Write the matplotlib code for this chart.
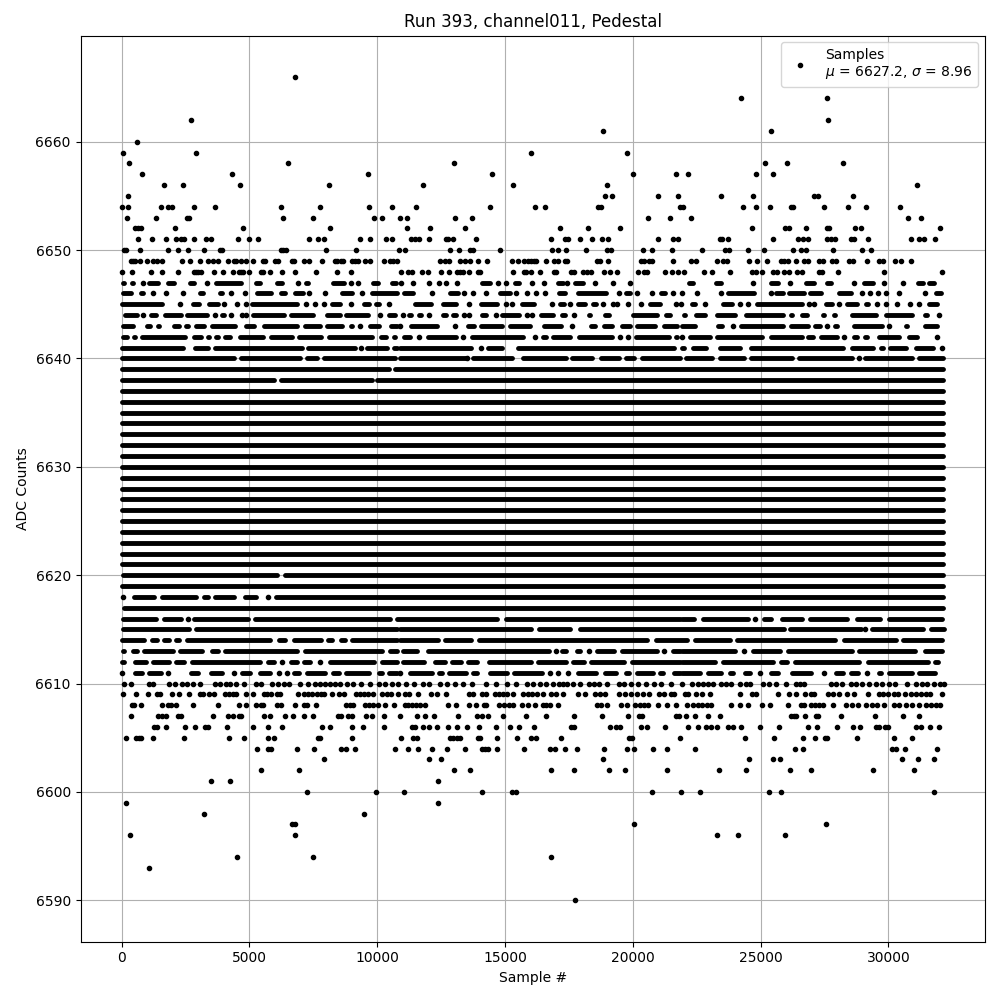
import matplotlib
matplotlib.use("Agg")
import matplotlib.pyplot as plt

# Values are read off the picture. An int is one sample; a (start, end) pair is
# a stretch of a row where the dots overlap too much to separate individually.
row_6666 = [6783]
row_6664 = [24218, 27590]
row_6662 = [2721, 27656]
row_6661 = [18828, 25390]
row_6660 = [586]
row_6659 = [65, 2916, 16003, 19766]
row_6658 = [300, 6510, 12994, 25156, 26054, 28241]
row_6657 = [807, 4323, 9635, 14478, 20000, 21680, 22148, 24804, 25468]
row_6656 = [1667, 2409, 4635, 8111, 11783, 15298, 18984, 31132]
row_6655 = [260, 18906, 19180, 20976, 21758, 23437, 24687, 27110, 27240, 28632]
row_6654 = [26, 260, 1549, 1823, 1979, 2838, 3659, 6237, 7760, 9674, 10572, 11510, 14400,
            16172, 16563, 18633, 18750, 21836, 21953, 24296, 24804, 25351, 26210, 26289,
            27500, 28437, 29140, 30468]
row_6653 = [221, 1354, 2565, 2620, 6315, 7487, 9869, 10182, 10885, 11171, 13033, 13697,
            20586, 21445, 22265, 30781, 31289]
row_6652 = [534, 651, 755, 2096, 4752, 8150, 11158, 12056, 13424, 17148, 18242, 19492,
            24648, 25976, 26133, 26797, 27617, 27695, 28710, 28945, 32031]
row_6651 = [651, 1198, 1745, 2135, 2330, 2435, 2838, 3307, 3502, 4557, 4987, 5338, 7330,
            7682, 7916, 9322, 9713, 10338, 10572, 11314, 11471, 11627, 12017, 12681, 12760,
            12955, 13853, 16797, 17344, 17461, 17930, 18398, 18789, 19023, 20976, 21562,
            21758, 23398, 23476, 23710, 25468, 26484, 26680, 26875, 27617, 27773, 27930,
            28554, 28671, 29218, 30898, 31211, 31406, 31836]
row_6650 = [78, 156, 729, 1823, 2213, 2604, 3229, 3841, 3919, 6237, 6315, 6432, 7994, 9166,
            10846, 11080, 12838, 13189, 13619, 13736, 14791, 16836, 17070, 17383, 18164,
            18984, 19140, 20390, 20742, 21523, 22695, 23593, 23750, 24492, 25117, 26289,
            26601, 26797, 27851, 28984, 29336]
row_6649 = [378, 456, 534, 729, 977, 1237, 1393, 1588, 2370, 2682, 3073, 3385, 3581, 3776,
            4166, 4401, 4479, 4674, 4870, 5143, 5533, 5612, 6002, 6119, 6666, 6744, 7135,
            7330, 7838, 8346, 8424, 8580, 8658, 9010, 9127, 9244, 9518, 9713, 10260, 10494,
            10611, 10767, 12447, 12642, 12799, 13228, 13424, 13619, 13931, 14283, 15259,
            15494, 15728, 15884, 16015, 16120, 16198, 16601, 16914, 17070, 17344, 17422,
            18594, 18711, 19023, 20312, 20429, 20625, 20742, 21562, 22265, 22461, 23281,
            23515, 23671, 24531, 24843, 25234, 25781, 25937, 26055, 26406, 26718, 26875,
            27304, 27460, 27812, 27968, 28476, 28632, 29179, 29648, 29804, 30273, 30507, 30872]
row_6648 = [26, 417, 1159, 1588, 2213, 2838, 2916, 2994, 3099, 3620, 3971, 4362, 4596, 4674,
            4752, 4987, 5455, 5533, 5807, 6276, 6783, 7604, 8411, 8971, 10924, 11197, 11354,
            11744, 11978, 12486, 12799, 13111, 13228, 13345, 13580, 13931, 14010, 15298,
            15728, 15819, 16015, 16367, 16914, 16992, 17578, 17683, 18047, 18203, 18359,
            18867, 19101, 19375, 20195, 20429, 20547, 21250, 21523, 21758, 21992, 22773,
            23085, 23789, 24648, 24804, 25039, 25468, 25625, 25937, 26133, 26445, 26640,
            27304, 27421, 28046, 29843, 32109]
row_6647 = [(39, 91), (403, 455), 845, (1080, 1417), (1833, 2041), (2665, 2847), 3341,
            (3705, 4667), (5265, 5421), (6084, 6266), 6903, (7215, 7306), (8268, 8697), 8957,
            9230, (9854, 10036), (10595, 10751), 10940, 11420, 12040, 12430, 12695, 13140,
            (14090, 14410), 14710, 15040, (15390, 15560), 16040, 16535, (17060, 17280), 17410,
            (17730, 18060), 18540, 19230, 19895, (22200, 22360), (23270, 23460), 24700,
            (25415, 25675), 26170, (26780, 27110), (27600, 27760), 28670, (29060, 29390),
            29840, 30560, (31150, 31340), (31600, 31800)]
row_6646 = [(65, 378), (755, 833), 1237, 1745, 2409, (3060, 3190), (3841, 3932), 4297, 4818,
            (5312, 5846), (6224, 6406), (6783, 7096), 7317, 7955, (8606, 9010), 9400,
            (9778, 10767), (11050, 11420), 12160, (12850, 13180), 13410, 13760, 14240,
            (14800, 15200), 15440, 15880, 16200, 16560, (17120, 17340), (17860, 18970), 19450,
            (19750, 19880), 20150, 20770, (21090, 21250), 21575, 21940, 22510, 23450,
            (23720, 24725), 25415, (25610, 25870), (26105, 26720), (26940, 27370),
            (28085, 28540), 28960, 29280, 29580, 29910, 30430, 31430, (31860, 32055)]
row_6645 = [(0, 1588), 2280, (2800, 3020), (3424, 3763), 4023, 4505, 4857, (5117, 6862), 7226,
            7565, 7903, (8241, 8554), 8958, (9479, 9661), (9960, 10090), 10455, (11484, 12096),
            (12565, 13072), 13593, (14062, 14700), 15025, 15285, (15663, 16132), 16848,
            (17160, 17304), 17564, (17838, 18150), (18463, 18580), 18840, 19230, 19400, 19817,
            20337, (20663, 21080), 21705, 21900, (22300, 22447), 22811, (23540, 23880), 24205,
            24504, (24870, 26613), 26912, 27108, (27564, 27785), 28059, (28384, 28762),
            (29126, 29217), 29543, 29908, 30337, 30845, 31183, (31574, 31886)]
row_6644 = [(143, 612), 846, (1146, 1328), (1693, 2305), (2578, 3346), 3659, (3919, 3997), 4270,
            4700, 4883, (5143, 6367), (6614, 7487), (8046, 8554), (8762, 9622), 10117,
            (10481, 10702), 11000, (11240, 11315), (11653, 11731), 12044, (12565, 12682),
            (12955, 13072), 13398, 13606, (14101, 14244), 14635, (14882, 15546), 15846, 16067,
            (16405, 16874), (17226, 17343), 17694, (18293, 18320), (18905, 19087),
            (20012, 20949), (21288, 21444), (22004, 22056), (22460, 22838), (23306, 24010),
            (24413, 25897), (26210, 26249), (26626, 26808), (27434, 27486), (27876, 27928),
            (28580, 29504), (29907, 30910), (31417, 31521), 31964]
row_6643 = [(65, 456), (976, 1094), (1406, 1458), (2031, 2239), (2513, 2591), (2929, 3242),
            (3528, 4453), (4857, 5195), (5573, 6862), (7174, 7773), (8046, 8619), (8958, 9010),
            9335, (9700, 10090), (10559, 10767), 10900, (11315, 12356), 13047, (13567, 13788),
            (14062, 14895), (15195, 15976), (16510, 17200), 17616, (18358, 18540),
            (18880, 19192), (19595, 19882), (20181, 20884), (21223, 21731), (21940, 22447),
            (23345, 23489), 23918, (24218, 25897), (26210, 26874), (27147, 27329), 27603,
            (27902, 27980), (28658, 29738), 30012, (30337, 30350), (30689, 30741), (31418, 31886)]
row_6642 = [(39, 195), (469, 508), (794, 2461), (2838, 3112), (3398, 3437), (3711, 3763),
            (4049, 4257), (4622, 5533), (5833, 6666), (6940, 7799), (8111, 9791), (10130, 10351),
            (10650, 10702), (11067, 11289), 11653, (11979, 13072), 13372, (13710, 15715), 16171,
            (16497, 16588), (16861, 17564), (17902, 19192), 19491, 19830, (20116, 21405),
            (21705, 21731), 21940, (22226, 23033), (23306, 25052), (25390, 26613), (26861, 27043),
            (27381, 27980), 28280, (28645, 28788), (29100, 29178), (29621, 30415), (30793, 31105),
            (31509, 31522), 31886]
row_6641 = [(0, 2409), (2877, 3372), (3646, 7057), (7304, 9140), 9374, (9609, 10377),
            (10650, 10767), (10900, 13684), 14062, (14322, 14895), (15494, 21600), (21940, 21991),
            (22369, 22864), (23397, 24205), (24634, 28240), (28580, 29413), (29724, 29777),
            (30077, 30676), (31092, 31730), 32095]
row_6640 = [(0, 4388), (4661, 6992), (7265, 7643), (7916, 10702), (10900, 13468), 13500,
            (13762, 15286), (15689, 17369), (17642, 18410), (18749, 19452), (19726, 20038),
            (20350, 21860), (22095, 23098), (23397, 24335), (24634, 26223), (26522, 28566), 28866,
            (29100, 30910), (31209, 32147)]
row_6639 = [(0, 10455), (10715, 32150)]
row_6638 = [(0, 5950), (6250, 9800), (10000, 32150)]
row_6620 = [(39, 6080), (6380, 32150)]
row_6618 = [65, (495, 1263), (1575, 2929), (3229, 3385), (3659, 4414), (4830, 5273), 5716,
            (6054, 32120)]
row_6617 = [(100, 32120)]
row_6616 = [(39, 1328), (1640, 2331), 2591, (2838, 4935), (5208, 10507), (10780, 14700),
            (15040, 21835), (21940, 22382), (22746, 24491), 24790, (25129, 25415), (25845, 26613),
            (26952, 28397), (28775, 29673), (30012, 32082)]
row_6615 = [(39, 2630), (2903, 10767), (10900, 16030), (16314, 17564), (17929, 25923),
            (26170, 28918), 29100, (29360, 31340), (31678, 32173)]
row_6614 = [(0, 872), (1185, 1367), (1640, 1849), (2122, 2239), (2578, 5820), (6159, 6406),
            (6744, 7799), (8085, 8228), (8567, 8749), (9023, 10767), (10900, 12382),
            (12669, 13684), (14000, 20559), (20923, 22121), (22434, 23788), (24087, 27915),
            (28254, 30285), (30571, 32082)]
row_6613 = [(39, 91), (430, 612), (885, 2018), (2279, 3151), (3528, 3763), (4049, 6862),
            (7174, 10182), (10520, 10767), (11000, 11549), (11979, 16718), 16978, (17226, 17369),
            (17811, 17929), 18293, (18593, 19283), (19595, 20949), 21223, (21574, 21835),
            (21940, 24010), 24335, (24713, 25767), (26080, 28566), (28840, 31040), (31444, 32082)]
row_6612 = [(0, 91), (534, 937), (1211, 1849), (2122, 2435), (2747, 5429), (5742, 5950), 6289,
            (6614, 6862), (7135, 7382), 7747, (8137, 9856), (10195, 10767), (11000, 11835),
            (12265, 12643), (12929, 13268), (13567, 13918), (14361, 16002), (16275, 17369),
            (17669, 18085), (18358, 19647), (19985, 21835), (21940, 23228), (23528, 25507),
            (25819, 26053), (26366, 28866), (29204, 31561), (31840, 31950)]
row_6611 = [26, (534, 781), (1081, 1523), 1823, (2708, 2995), (3515, 3932), 4401, (4726, 5039),
            (5416, 5820), 6159, 6471, (6744, 6926), (7265, 7968), (8281, 8489), (8789, 9661),
            (10065, 10182), (10455, 10767), 10900, (11289, 12161), (12434, 12552), (12825, 13463),
            (13762, 13918), (14413, 15065), (15338, 16458), 16757, 17083, 17447, (17877, 18580),
            (18905, 19361), (19751, 19843), (20181, 20793), (21054, 21171), (21613, 21835),
            (21940, 22616), (22955, 23450), (23788, 23918), (24387, 24596), 24960, (25390, 25702),
            (26236, 26965), 27499, (27954, 28241), (28540, 28827), 29165, (29621, 29699),
            (30012, 30910), (31209, 31821)]
row_6610 = [78, 352, 1081, 1237, 1862, 2096, 2370, 2565, 2799, 3073, 3659, 3841, 4088, 4245, 4466,
            4778, 5260, 5455, 5885, 6119, 6354, 6549, 6979, 7291, 7552, 7747, 7942, 8137, 8333, 8528,
            8801, 9036, 9362, 9713, 10065, 10325, 10572, 10807, 11132, 11458, 11783, 12043, 12447,
            12721, 13033, 13345, 13710, 14257, 14648, 15065, 15429, 15858, 16094, 16354, 16614, 16875,
            17109, 17266, 17422, 17656, 17917, 18307, 18503, 18698, 18984, 19479, 19675, 19935, 20195,
            20520, 20846, 21107, 21484, 21914, 22317, 22539, 22734, 22929, 23125, 23450, 23645, 23841,
            24192, 24427, 24583, 25078, 25338, 25598, 25989, 26380, 26536, 26706, 27747, 27942, 28203,
            28528, 28723, 28958, 29245, 29505, 29765, 30026, 30260, 30742, 31067, 31302, 31523, 31783,
            32005, 32174]
row_6609 = [65, 560, 1042, 1393, 1510, 1979, 2252, 2643, 3073, 3190, 3424, 3620, 4049, 4205, 4362,
            4479, 4870, 5143, 5573, 5690, 5846, 6080, 6198, 6900, 7135, 7291, 7447, 7643, 7799, 7916,
            8229, 8502, 8697, 9166, 9322, 9479, 9635, 9830, 10195, 10377, 10533, 10807, 11080, 11236,
            11588, 12095, 12330, 12681, 13580, 13736, 14088, 14244, 14596, 14752, 14908, 15065, 15298,
            15689, 15884, 16055, 16250, 16484, 16797, 17005, 17266, 17851, 18125, 18516, 18711, 18906,
            19453, 19687, 19922, 20156, 20390, 20625, 21016, 21211, 21484, 21601, 22031, 22148, 22461,
            22695, 23007, 24179, 24648, 24804, 25664, 26133, 26406, 26757, 26992, 27109, 27656, 27851,
            28085, 28398, 28671, 29218, 29648, 29804, 29999, 30234, 30390, 30638, 30872, 31067, 31262,
            31458, 31627, 32109]
row_6608 = [417, 495, 768, 1588, 1823, 1940, 2135, 2799, 3776, 4596, 4870, 5260, 5455, 5533, 6080,
            6237, 6783, 7135, 7252, 7604, 8775, 8932, 9049, 9518, 9674, 9830, 10025, 10299, 10650,
            11080, 11197, 11354, 11510, 11666, 11861, 12760, 13072, 13580, 13853, 14166, 14257, 14752,
            14960, 15142, 15298, 15650, 15884, 16172, 16484, 16614, 16745, 17070, 18594, 18750, 18984,
            19531, 19766, 20078, 20273, 20429, 20586, 20976, 21354, 21680, 22109, 22343, 22539, 22695,
            22890, 23047, 23828, 24179, 24492, 25039, 25351, 26094, 26601, 26718, 26992, 27148, 27304,
            27460, 27839, 28359, 28593, 28827, 29140, 29375, 29570, 29843, 30234, 30429, 30677, 30937,
            31197, 31458, 31679, 31848, 32031]
row_6607 = [378, 1432, 1588, 1745, 2213, 2330, 3581, 4166, 4362, 4596, 4674, 5573, 5807, 6393, 6705,
            7135, 7487, 8463, 8580, 8853, 9010, 9557, 9791, 10260, 10885, 11549, 11861, 12213, 13150,
            13892, 14088, 14322, 14908, 15806, 16601, 17695, 18789, 19805, 20234, 20351, 21680, 21797,
            22070, 22422, 22929, 23398, 26210, 26328, 26406, 26757, 27187, 27265, 28164, 29492, 30585,
            31211]
row_6606 = [1276, 1393, 1745, 2487, 2877, 3268, 3385, 4127, 5143, 5729, 6276, 7838, 8150, 9010, 9440,
            10260, 11354, 11471, 11783, 12017, 12330, 12760, 13111, 13515, 13970, 14635, 15182, 15533,
            16133, 17578, 17695, 19101, 19336, 19492, 20312, 20547, 21250, 22148, 22539, 22851, 23047,
            23281, 23711, 23906, 24218, 24960, 25703, 26875, 27226, 28008, 28632, 28906, 29531, 29648,
            29883, 29999, 31093, 31289, 31640, 31992]
row_6605 = [182, 573, 690, 768, 1237, 2448, 4205, 4791, 5729, 5963, 7682, 7760, 9010, 10924, 11393,
            11549, 12838, 12955, 13111, 13228, 13931, 14010, 14674, 15455, 16015, 16211, 17188, 19844,
            19961, 21836, 24375, 25546, 26680, 27148, 27539, 27617, 28789, 30234, 30937]
row_6604 = [5299, 5729, 5846, 6862, 7526, 8580, 8775, 9127, 10690, 11197, 11588, 12135, 12721, 13424,
            14088, 14205, 14322, 14674, 15728, 16758, 16953, 17344, 17812, 18867, 19766, 20039, 20781,
            21328, 22422, 26367, 26680, 30156, 30312, 30663, 31914]
row_6603 = [7916, 12017, 12486, 18828, 24531, 25468, 25742, 30546, 31171, 31796]
row_6602 = [5455, 6940, 12994, 13619, 16797, 17695, 19062, 19687, 21328, 23359, 24414, 26172, 26992,
            29414, 31015]
row_6601 = [3502, 4245, 12369]
row_6600 = [7252, 9947, 11041, 14088, 15259, 15416, 20742, 21875, 22617, 25312, 25820, 31796]
row_6599 = [182, 12369]
row_6598 = [3229, 9479]
row_6597 = [6666, 6783, 20039, 27578]
row_6596 = [339, 6783, 23281, 24101, 25976]
row_6594 = [4518, 7487, 16797]
row_6593 = [1081]
row_6590 = [17734]

dense_levels = [6619] + list(range(6621, 6638))
dense_span = (0, 32150)

title = "Run 393, channel011, Pedestal"
x_label = "Sample #"
y_label = "ADC Counts"
legend_label = "Samples\n$\\mu$ = 6627.2, $\\sigma$ = 8.96"

rows = {int(k[4:]): v for k, v in list(globals().items()) if k.startswith("row_")}
for level in dense_levels:
    rows[level] = [dense_span]

point_x, point_y, run_y, run_start, run_end = [], [], [], [], []
for level, entries in rows.items():
    for entry in entries:
        if isinstance(entry, tuple):
            run_y.append(level)
            run_start.append(entry[0])
            run_end.append(entry[1])
        else:
            point_x.append(entry)
            point_y.append(level)

fig, ax = plt.subplots(figsize=(10, 10), dpi=100)
ax.hlines(run_y, run_start, run_end, colors="k", linewidth=3.5, capstyle="round", zorder=2)
ax.plot(point_x, point_y, "k.", label=legend_label, zorder=2.1)
ax.set_title(title)
ax.set_xlabel(x_label)
ax.set_ylabel(y_label)
ax.grid(True)
ax.legend(loc="upper right")
fig.subplots_adjust(left=0.0805, right=0.985, top=0.9645, bottom=0.0585)
fig.savefig("out.png", dpi=100)
